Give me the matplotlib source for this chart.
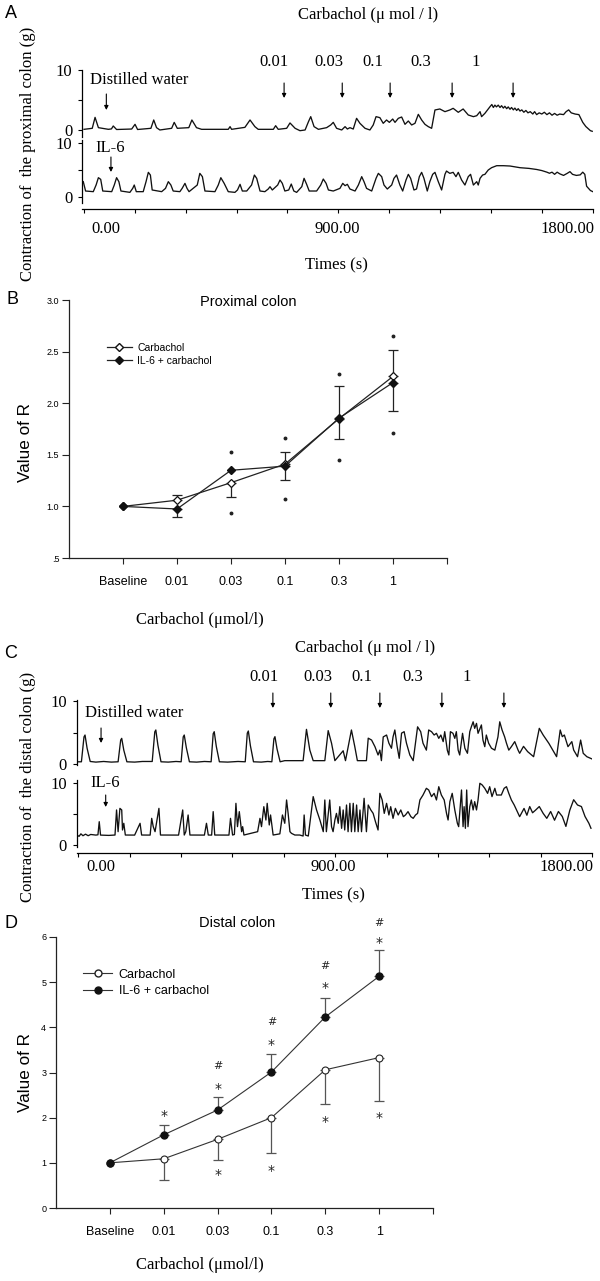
import numpy as np
import matplotlib
matplotlib.use('Agg')
import matplotlib.pyplot as plt
from matplotlib.transforms import blended_transform_factory
from matplotlib.lines import Line2D

W, H = 600, 1281
SERIF = 'Liberation Serif'
SANS = 'Liberation Sans'

# ---- traces (time in s, force in g) ----
prox_water_t = [-87, -55, -44, -31, 8, 20, 27, 40, 99, 112, 122, 174, 185, 196, 209, 255, 265, 277, 322, 334, 352, 372,
                476, 483, 489, 541, 561, 580, 593, 652, 661, 671, 704, 717, 737, 756, 776, 789, 798, 811, 828, 847, 860,
                876, 886, 899, 919, 932, 941, 951, 964, 977, 990, 1010, 1029, 1042, 1053, 1068, 1081, 1094, 1105, 1118,
                1127, 1140, 1153, 1166, 1179, 1192, 1205, 1218, 1231, 1244, 1257, 1270, 1283, 1302, 1322, 1341, 1354,
                1374, 1393, 1413, 1433, 1446, 1459, 1465, 1478, 1498, 1505, 1511, 1517, 1523, 1530, 1537, 1543, 1550,
                1556, 1563, 1569, 1576, 1582, 1589, 1595, 1602, 1608, 1615, 1622, 1630, 1638, 1646, 1655, 1665, 1672,
                1680, 1690, 1700, 1710, 1720, 1730, 1740, 1750, 1760, 1770, 1785, 1795, 1805, 1815, 1830, 1845, 1860,
                1872, 1890, 1897]
prox_water_g = [0.03, 0.2, 2.04, 0.31, 0.03, 0.1, 0.59, 0, 0.08, 0.87, 0, 0.2, 1.6, 0.31, -0.08, 0.2, 1.2, 0.2, 0.31, 1.6,
                0.31, 0.03, 0.03, 0.48, 0.03, 0.36, 1.6, 0.48, 0.03, 0.03, 0.64, 0.03, 0.2, 1.1, 0.2, -0.2, -0.08, 1.3,
                2.16, 0.48, 0.03, 0.2, 0.31, 0.76, 1.2, 0.2, -0.08, 0.48, 0.08, 0.31, 0.08, 1.88, 1.04, 0.2, -0.08, 0.76,
                2.16, 1.99, 1.04, 1.6, 1.2, 1.76, 1.2, 1.88, 2.1, 0.87, 1.43, 0.76, 1.04, 2.55, 1.6, 0.87, 0.48, 0.2,
                3.28, 3.45, 3.0, 3.28, 3.56, 2.89, 3.45, 2.44, 2.16, 2.32, 3.0, 2.16, 2.72, 3.84, 4.2, 3.7, 4.1, 3.8,
                4.1, 3.7, 4.0, 3.6, 3.9, 3.5, 3.8, 3.4, 3.7, 3.3, 3.6, 3.2, 3.5, 3.1, 3.3, 2.9, 3.2, 2.8, 3.0, 2.6, 3.0,
                2.5, 2.8, 2.6, 2.9, 2.5, 2.8, 2.4, 2.7, 2.4, 2.6, 2.5, 3.0, 3.3, 2.8, 2.6, 2.5, 1.2, 0.5, -0.2, -0.3]

prox_il6_t = [-90, -81, -51, -40, -31, -22, -14, 21, 31, 40, 49, 57, 92, 103, 109, 117, 144, 155, 164, 172, 179, 216,
              231, 242, 252, 261, 287, 296, 307, 315, 323, 355, 365, 375, 385, 424, 437, 447, 460, 476, 502, 512, 522,
              531, 548, 567, 578, 587, 600, 619, 632, 639, 648, 669, 678, 687, 697, 712, 722, 732, 743, 763, 772, 782,
              792, 821, 837, 847, 858, 867, 886, 912, 923, 932, 941, 951, 971, 984, 997, 1006, 1016, 1036, 1053, 1062,
              1075, 1084, 1097, 1114, 1123, 1133, 1146, 1157, 1170, 1179, 1188, 1201, 1211, 1222, 1231, 1240, 1253,
              1263, 1274, 1283, 1296, 1309, 1322, 1328, 1341, 1354, 1365, 1374, 1387, 1400, 1413, 1422, 1433, 1446,
              1452, 1459, 1469, 1478, 1491, 1504, 1524, 1550, 1576, 1615, 1650, 1680, 1700, 1720, 1730, 1740, 1750,
              1760, 1770, 1785, 1800, 1810, 1820, 1835, 1850, 1860, 1868, 1875, 1890, 1899]
prox_il6_g = [2.84, 1.11, 0.99, 2.22, 3.58, 3.27, 1.11, 0.99, 2.22, 3.58, 2.84, 1.11, 0.86, 1.6, 2.22, 0.99, 0.99, 2.84,
              4.57, 4.07, 1.3, 0.99, 1.6, 2.84, 2.22, 1.11, 0.99, 1.6, 2.53, 1.6, 0.99, 2.22, 4.38, 3.77, 1.11, 0.99,
              2.22, 3.58, 2.53, 0.99, 0.86, 1.3, 2.35, 1.11, 1.11, 2.22, 4.07, 3.46, 1.11, 0.99, 1.48, 1.91, 1.3, 2.22,
              3.15, 2.53, 1.11, 1.3, 2.4, 1.11, 0.86, 1.91, 3.46, 2.35, 1.11, 1.11, 2.22, 3.33, 2.53, 1.3, 1.11, 1.6,
              2.53, 2.1, 2.35, 1.48, 1.11, 2.22, 3.77, 2.84, 1.6, 1.11, 3.46, 4.38, 3.77, 2.22, 1.48, 2.22, 3.46, 4.07,
              2.22, 1.11, 3.15, 4.2, 3.46, 1.3, 1.48, 3.77, 4.57, 3.46, 1.11, 2.84, 4.2, 4.57, 2.84, 1.3, 4.2, 4.81,
              4.38, 4.57, 3.77, 4.57, 3.15, 2.22, 3.77, 4.2, 2.22, 2.84, 2.22, 3.46, 4.07, 4.2, 5.0, 5.43, 5.8, 5.8,
              5.74, 5.43, 5.3, 5.1, 4.9, 4.6, 4.4, 4.6, 4.2, 4.6, 4.3, 4.0, 4.4, 4.7, 4.2, 4.0, 4.1, 4.6, 4.2, 2.0,
              1.2, 1.0]

dist_water_t = [-94, -76, -66, -62, -54, -42, -20, 10, 40, 66, 76, 80, 88, 100, 130, 160, 198, 208, 212, 220, 232, 260,
                290, 310, 318, 322, 330, 342, 370, 400, 426, 434, 438, 446, 458, 490, 530, 558, 566, 570, 578, 590, 620,
                645, 661, 669, 673, 681, 693, 711, 782, 795, 808, 821, 866, 879, 892, 905, 937, 946, 969, 982, 992,
                1027, 1034, 1047, 1060, 1072, 1079, 1085, 1092, 1105, 1114, 1124, 1130, 1137, 1146, 1154, 1163, 1173,
                1182, 1195, 1208, 1225, 1237, 1246, 1259, 1268, 1279, 1289, 1298, 1307, 1315, 1324, 1330, 1340, 1346,
                1352, 1362, 1369, 1375, 1382, 1388, 1399, 1408, 1418, 1427, 1433, 1440, 1446, 1453, 1459, 1472, 1478,
                1485, 1491, 1500, 1511, 1524, 1536, 1543, 1552, 1562, 1569, 1578, 1588, 1601, 1614, 1620, 1635, 1651,
                1674, 1696, 1711, 1733, 1748, 1763, 1777, 1785, 1793, 1807, 1822, 1829, 1844, 1856, 1866, 1880, 1900]
dist_water_g = [0.35, 0.35, 4.3, 4.6, 2.5, 0.4, 0.3, 0.4, 0.3, 0.35, 3.8, 4.07, 2.2, 0.35, 0.3, 0.4, 0.4, 5.1, 5.4, 3.0,
                0.35, 0.3, 0.4, 0.35, 4.3, 4.6, 2.6, 0.35, 0.3, 0.4, 0.35, 4.8, 5.13, 2.8, 0.35, 0.3, 0.4, 0.35, 4.9,
                5.24, 2.9, 0.35, 0.3, 0.4, 0.35, 4.0, 4.34, 2.4, 0.35, 0.53, 0.53, 5.5, 2.2, 0.53, 0.53, 5.3, 3.3, 0.53,
                2.1, 0.53, 5.4, 2.75, 0.53, 0.53, 4.1, 3.8, 2.75, 1.43, 2.2, 0.53, 4.3, 4.6, 3.3, 2.5, 4.3, 5.4, 2.75,
                0.9, 4.9, 5.13, 3.3, 1.43, 0.53, 5.9, 5.13, 3.3, 2.2, 5.4, 5.13, 4.6, 4.87, 4.07, 4.6, 3.55, 5.13, 2.2,
                1.43, 5.13, 4.87, 4.07, 5.13, 2.2, 1.43, 4.87, 2.5, 1.7, 5.13, 5.9, 6.7, 5.66, 6.45, 4.87, 6.2, 3.8,
                2.75, 4.6, 3.3, 2.5, 2.2, 4.3, 6.7, 5.4, 4.3, 3.3, 2.2, 2.75, 3.55, 2.2, 1.7, 2.8, 1.96, 1.16, 5.66,
                4.6, 3.28, 2.22, 1.16, 5.4, 4.34, 4.6, 2.75, 3.55, 2.22, 1.16, 3.8, 1.7, 1.16, 0.8]

dist_il6_t = [-94, -85, -78, -70, -60, -50, -40, -20, -12, -7, -2, 30, 54, 60, 66, 73, 80, 83, 88, 94, 130, 151, 157,
              190, 196, 202, 209, 224, 230, 300, 316, 322, 328, 337, 344, 400, 408, 415, 428, 434, 440, 495, 501, 509,
              516, 522, 528, 535, 544, 548, 553, 606, 615, 621, 630, 638, 643, 651, 656, 666, 692, 702, 711, 718, 724,
              731, 737, 750, 769, 782, 786, 791, 802, 821, 834, 847, 860, 866, 872, 885, 892, 898, 905, 911, 918, 924,
              931, 937, 943, 950, 956, 963, 969, 976, 982, 989, 995, 1002, 1008, 1018, 1027, 1034, 1044, 1053, 1062,
              1072, 1079, 1088, 1096, 1105, 1114, 1121, 1130, 1139, 1150, 1160, 1170, 1178, 1188, 1199, 1208, 1217,
              1225, 1234, 1246, 1259, 1268, 1279, 1289, 1298, 1307, 1317, 1328, 1337, 1343, 1350, 1359, 1369, 1379,
              1384, 1389, 1395, 1401, 1405, 1410, 1415, 1420, 1427, 1433, 1440, 1446, 1453, 1459, 1466, 1475, 1485,
              1496, 1504, 1513, 1524, 1531, 1539, 1549, 1560, 1569, 1578, 1588, 1599, 1608, 1620, 1637, 1648, 1659,
              1670, 1681, 1696, 1711, 1725, 1740, 1755, 1770, 1785, 1799, 1814, 1829, 1844, 1859, 1873, 1888, 1896]
dist_il6_g = [1.61, 1.4, 1.8, 1.5, 1.75, 1.5, 1.7, 1.6, 1.65, 3.76, 1.6, 1.55, 1.61, 5.65, 2.15, 5.91, 5.65, 2.42, 3.5,
              1.61, 1.6, 3.5, 1.61, 1.6, 4.3, 2.96, 2.15, 5.91, 1.61, 1.6, 5.65, 1.61, 2.15, 4.84, 1.61, 1.6, 3.5, 1.61,
              1.6, 5.38, 1.61, 1.6, 4.3, 1.61, 1.7, 6.72, 2.96, 5.38, 2.15, 2.96, 1.61, 2.15, 4.3, 2.96, 6.18, 4.03,
              6.72, 3.23, 4.84, 1.61, 1.8, 4.84, 3.5, 7.26, 5.1, 2.15, 1.88, 1.61, 1.61, 1.45, 4.84, 1.61, 1.45, 7.8,
              5.65, 4.03, 2.15, 7.26, 2.15, 7.26, 2.96, 2.15, 4.03, 5.1, 3.5, 6.18, 2.69, 5.65, 2.42, 6.45, 2.15, 6.72,
              2.15, 6.72, 2.15, 6.45, 2.15, 5.65, 2.15, 7.53, 2.15, 6.45, 5.65, 5.1, 3.76, 2.42, 8.33, 7.26, 5.1, 6.72,
              4.84, 6.18, 4.3, 5.91, 4.84, 5.65, 4.57, 4.84, 5.38, 4.57, 4.3, 4.84, 5.1, 7.26, 8.06, 9.14, 8.87, 7.8,
              8.33, 7.26, 9.4, 8.06, 7.26, 5.1, 4.03, 6.99, 8.33, 5.65, 3.5, 2.96, 5.65, 8.87, 2.96, 6.18, 2.69, 8.87,
              2.96, 6.18, 7.26, 5.65, 6.99, 5.65, 7.26, 9.95, 9.68, 9.14, 8.33, 9.4, 7.8, 9.14, 8.06, 8.06, 8.06, 9.14,
              9.4, 8.33, 7.26, 6.45, 5.65, 4.57, 5.9, 4.8, 6.2, 5.2, 5.6, 6.2, 5.1, 4.3, 5.4, 4.0, 5.4, 4.6, 3.0, 5.6,
              7.3, 6.45, 6.2, 4.6, 3.5, 2.7]

# carbachol additions
conc_labels = ['0.01', '0.03', '0.1', '0.3', '1']
prox_add_t = [694, 921, 1108, 1350, 1588]
prox_lab_t = [655, 869, 1041, 1228, 1443]
dist_add_t = [665, 889, 1079, 1319, 1559]
dist_lab_t = [630, 839, 1009, 1206, 1416]

# ---- dose response ----
doses = ['Baseline', '0.01', '0.03', '0.1', '0.3', '1']

prox_carb = [1.0, 1.06, 1.23, 1.41, 1.85, 2.26]
prox_carb_up = [0, 0.05, 0, 0.12, 0.32, 0.26]
prox_carb_dn = [0, 0, 0.14, 0, 0, 0]
prox_il6 = [1.0, 0.975, 1.35, 1.39, 1.855, 2.20]
prox_il6_dn = [0, 0.075, 0, 0.13, 0.205, 0.28]
prox_mark_hi = [np.nan, np.nan, 1.53, 1.66, 2.28, 2.65]
prox_mark_lo = [np.nan, np.nan, 0.94, 1.07, 1.45, 1.71]

dist_carb = [1.0, 1.09, 1.52, 2.0, 3.06, 3.33]
dist_carb_dn = [0, 0.46, 0.45, 0.78, 0.75, 0.95]
dist_il6 = [1.0, 1.62, 2.17, 3.01, 4.23, 5.13]
dist_il6_up = [0, 0.22, 0.29, 0.39, 0.43, 0.59]
dist_star_hi = [np.nan, 2.12, 2.73, 3.69, 4.96, 5.95]
dist_hash_hi = [np.nan, np.nan, 3.17, 4.15, 5.38, 6.33]
dist_star_lo = [np.nan, np.nan, 0.83, 0.90, 2.0, 2.08]

fig = plt.figure(figsize=(W / 100, H / 100), dpi=100)


def box(x0, y0, x1, y1):
    # pixel box measured from the top left -> figure rect
    return [x0 / W, 1 - y1 / H, (x1 - x0) / W, (y1 - y0) / H]


def fy(py):
    return 1 - py / H


def ftext(x, y, s, **kw):
    fig.text(x / W, fy(y), s, ha=kw.pop('ha', 'center'), va=kw.pop('va', 'center'), **kw)


def trace_axes(x0, x1, y0, y1, ylim, t, g, bottom=False):
    ax = fig.add_axes(box(x0, y0, x1, y1))
    ax.plot(t, g, color='#111111', lw=0.95)
    ax.set_xlim(-95, 1900)
    ax.set_ylim(*ylim)
    ax.patch.set_alpha(0)
    ax.spines['top'].set_visible(False)
    ax.spines['right'].set_visible(False)
    ax.spines['left'].set_linewidth(0.9)
    ax.set_yticks([0, 5, 10], ['0', '', '10'])
    ax.tick_params(axis='y', direction='out', length=3, width=0.8, labelsize=12, pad=4)
    for lab in ax.get_yticklabels():
        lab.set_fontfamily(SERIF)
    if bottom:
        ax.spines['bottom'].set_position(('outward', 4.3))
        ax.spines['bottom'].set_linewidth(0.9)
        ax.set_xticks(np.linspace(-88, 1900, 11), [''] * 11)
        ax.tick_params(axis='x', direction='out', length=3, width=0.8)
    else:
        ax.spines['bottom'].set_visible(False)
        ax.set_xticks([])
    return ax


def arrow(ax, t, ya, yb):
    tr = blended_transform_factory(ax.transData, fig.transFigure)
    ax.annotate('', xy=(t, fy(yb)), xytext=(t, fy(ya)), xycoords=tr, textcoords=tr, annotation_clip=False,
                arrowprops=dict(arrowstyle='-|>', color='k', lw=0.8, mutation_scale=6, shrinkA=0, shrinkB=0))


def xtext(ax, t, y, s, **kw):
    tr = blended_transform_factory(ax.transData, fig.transFigure)
    ax.text(t, fy(y), s, transform=tr, ha='center', va='center', **kw)


def trace_panel(letter, x0, x1, rows, lims, traces, add_t, lab_t, ys, colon):
    top = trace_axes(x0, x1, rows[0], rows[1], lims[0], traces[0], traces[1])
    bot = trace_axes(x0, x1, rows[2], rows[3], lims[1], traces[2], traces[3], bottom=True)
    ftext(11, ys['letter'], letter, fontsize=13, family=SANS)
    xtext(top, 1020, ys['head'], 'Carbachol (\u03bc mol / l)', fontsize=12, family=SERIF)
    for t, s in zip(lab_t, conc_labels):
        xtext(top, t, ys['conc'], s, fontsize=12, family=SERIF)
    for t in add_t:
        arrow(top, t, ys['arr'][0], ys['arr'][1])
    arrow(top, 0, ys['warr'][0], ys['warr'][1])
    arrow(bot, 18, ys['iarr'][0], ys['iarr'][1])
    ftext(ys['wx'], ys['water'], 'Distilled water', ha='left', fontsize=12, family=SERIF)
    ftext(ys['wx'] + 5, ys['il6'], 'IL-6', ha='left', fontsize=12, family=SERIF)
    for t, s in zip([0, 900, 1800], ['0.00', '900.00', '1800.00']):
        xtext(bot, t, ys['ticks'], s, fontsize=12, family=SERIF)
    xtext(bot, 900, ys['times'], 'Times (s)', fontsize=12, family=SERIF)
    ftext(28, ys['ylab'], 'Contraction of  the ' + colon + ' colon (g)', rotation=90, fontsize=12, family=SERIF)


def dose_axes(x0, x1, y0, y1, ylim, yticks, ylabels):
    ax = fig.add_axes(box(x0, y0, x1, y1))
    ax.set_xlim(-1, 6)
    ax.set_ylim(*ylim)
    ax.spines['top'].set_visible(False)
    ax.spines['right'].set_visible(False)
    for s in ['left', 'bottom']:
        ax.spines[s].set_linewidth(0.9)
        ax.spines[s].set_color('#222222')
    ax.set_xticks(range(6), doses)
    ax.set_xticks([6], minor=True)
    ax.tick_params(axis='x', which='both', direction='out', length=4, width=0.8, color='#222222')
    ax.tick_params(axis='x', labelsize=9, pad=9)
    ax.set_yticks(yticks, ylabels)
    ax.tick_params(axis='y', direction='out', length=5, width=0.8, labelsize=6.5, pad=2, color='#222222')
    for lab in ax.get_xticklabels() + ax.get_yticklabels():
        lab.set_fontfamily(SANS)
    return ax


def err_part(ax, x, mean, lo, hi, color, cap):
    lo = np.asarray(lo, float)
    hi = np.asarray(hi, float)
    m = (lo > 0) | (hi > 0)
    ax.errorbar(x[m], np.asarray(mean)[m], yerr=[lo[m], hi[m]], fmt='none', ecolor=color,
                elinewidth=0.9, capsize=cap, capthick=0.9, zorder=2)


# ---- A: proximal traces ----
trace_panel('A', 82, 593, [70, 137, 140, 203], [(-1.26, 10.0), (-1.11, 10.56)],
            [prox_water_t, prox_water_g, prox_il6_t, prox_il6_g], prox_add_t, prox_lab_t,
            dict(letter=13, head=15, conc=62, arr=(83, 98), warr=(94, 110), iarr=(157, 172), wx=90,
                 water=80, il6=148, ticks=229, times=265, ylab=154), 'proximal')

# ---- C: distal traces ----
trace_panel('C', 76.5, 592, [700, 765, 780, 847], [(-0.16, 10.16), (-0.32, 10.48)],
            [dist_water_t, dist_water_g, dist_il6_t, dist_il6_g], dist_add_t, dist_lab_t,
            dict(letter=653, head=648, conc=677, arr=(693, 708), warr=(728, 743), iarr=(795, 807), wx=85,
                 water=713, il6=783, ticks=867, times=895, ylab=787), 'distal')

# ---- B: proximal dose response ----
x = np.arange(6)
axb = dose_axes(69, 447, 300, 558, (0.5, 3.0), [0.5, 1.0, 1.5, 2.0, 2.5, 3.0],
                ['.5', '1.0', '1.5', '2.0', '2.5', '3.0'])
err_part(axb, x, prox_carb, prox_carb_dn, prox_carb_up, '#222222', 3.5)
err_part(axb, x, prox_il6, prox_il6_dn, [0] * 6, '#222222', 3.5)
axb.plot(x, prox_carb, color='#222222', lw=0.9, marker='D', ms=4.5, mfc='white', mec='#111111', mew=0.9, zorder=3)
axb.plot(x, prox_il6, color='#222222', lw=0.9, marker='D', ms=4.5, mfc='#111111', mec='#111111', zorder=4)
axb.plot(x, prox_mark_hi, ls='none', marker='o', ms=1.8, color='#222222')
axb.plot(x, prox_mark_lo, ls='none', marker='o', ms=1.8, color='#222222')
hb = [Line2D([], [], color='#222222', lw=0.9, marker='D', ms=4.5, mfc='white', mec='#111111'),
      Line2D([], [], color='#222222', lw=0.9, marker='D', ms=4.5, mfc='#111111', mec='#111111')]
axb.legend(hb, ['Carbachol', 'IL-6 + carbachol'], loc='upper left', bbox_to_anchor=(0.1, 0.833), frameon=False,
           prop={'family': SANS, 'size': 7.5}, handlelength=2.4, handletextpad=0.5, labelspacing=0.25,
           borderpad=0, borderaxespad=0)
ftext(12, 300, 'B', fontsize=13, family=SANS)
ftext(248, 302, 'Proximal colon', fontsize=10.5, family=SANS)
ftext(26, 443, 'Value of R', rotation=90, fontsize=12.3, family=SANS)
ftext(200, 620, 'Carbachol (\u03bcmol/l)', fontsize=12, family=SERIF)

# ---- D: distal dose response ----
axd = dose_axes(56, 433, 937, 1208, (0, 6), range(7), [str(i) for i in range(7)])
err_part(axd, x, dist_carb, dist_carb_dn, [0] * 6, '#555555', 3.6)
err_part(axd, x, dist_il6, [0] * 6, dist_il6_up, '#555555', 3.6)
axd.plot(x, dist_carb, color='#333333', lw=0.8, marker='o', ms=5, mfc='white', mec='#222222', mew=0.8, zorder=3)
axd.plot(x, dist_il6, color='#333333', lw=0.8, marker='o', ms=5, mfc='#111111', mec='#111111', zorder=4)
for i in range(6):
    for yv, s, fs, dy in [(dist_star_hi[i], '*', 10, -5.8), (dist_hash_hi[i], '#', 8, -2.9),
                          (dist_star_lo[i], '*', 10, -5.8)]:
        if not np.isnan(yv):
            axd.annotate(s, (i, yv), xytext=(0, dy), textcoords='offset points', ha='center', va='baseline',
                         fontsize=fs, color='#222222', annotation_clip=False)
hd = [Line2D([], [], color='#333333', lw=0.8, marker='o', ms=5, mfc='white', mec='#222222'),
      Line2D([], [], color='#333333', lw=0.8, marker='o', ms=5, mfc='#111111', mec='#111111')]
axd.legend(hd, ['Carbachol', 'IL-6 + carbachol'], loc='upper left', bbox_to_anchor=(0.072, 0.883), frameon=False,
           prop={'family': SANS, 'size': 9}, handlelength=2.3, handletextpad=0.55, labelspacing=0.35,
           borderpad=0, borderaxespad=0)
ftext(11, 923, 'D', fontsize=13, family=SANS)
ftext(237, 923, 'Distal colon', fontsize=10.5, family=SANS)
ftext(26, 1073, 'Value of R', rotation=90, fontsize=12.3, family=SANS)
ftext(200, 1265, 'Carbachol (\u03bcmol/l)', fontsize=12, family=SERIF)

fig.savefig('out.png', dpi=100)
